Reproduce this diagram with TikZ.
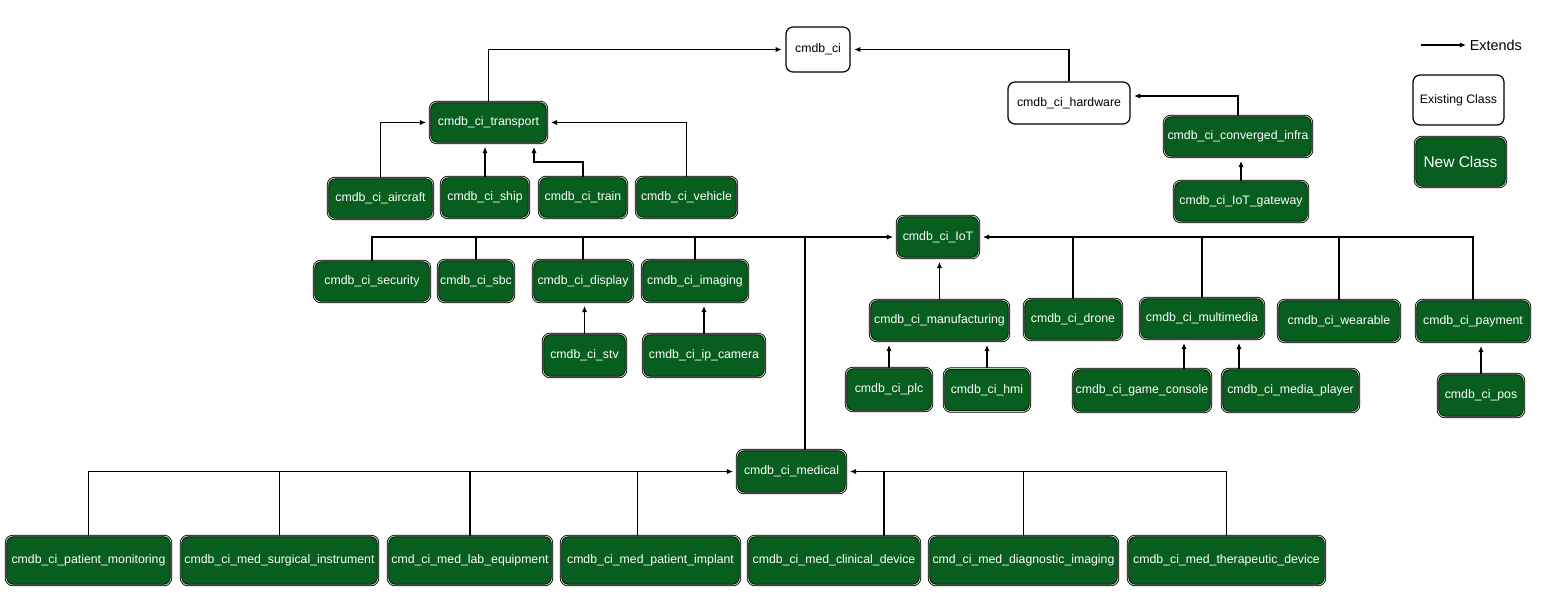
\documentclass[tikz,border=0pt]{standalone}
\usepackage{fontspec}
\setmainfont{Liberation Sans}
\usetikzlibrary{arrows.meta, calc}
\definecolor{clsGreen}{HTML}{075E1F}
\definecolor{clsEdge}{HTML}{A8CFA9}

\tikzset{
  oldcls/.style={draw=black, fill=white, rounded corners=4pt, line width=0.7pt, align=center},
  newcls/.style={draw=black, double=clsEdge, double distance=0.5pt, line width=0.45pt,
    fill=clsGreen, text=white, rounded corners=4pt, align=center},
  sz/.style 2 args={minimum width=#1*0.02cm, minimum height=#2*0.02cm, inner sep=0pt},
  ext/.style={->, line width=0.8pt, shorten >=2pt},
  link/.style={line width=0.8pt},
}

\begin{document}
\begin{tikzpicture}[x=0.02cm, y=-0.02cm, font=\fontsize{7}{8.4}\selectfont,
    >={Latex[length=3.5pt,width=3pt]}]
  \useasboundingbox (0,0) rectangle (1545,592);

  % existing classes
  \node[oldcls, sz={64}{45}] (ci) at (818,49.5) {cmdb\_ci};
  \node[oldcls, sz={122}{42}] (hardware) at (1069,103) {cmdb\_ci\_hardware};

  % transport
  \node[newcls, sz={117}{41}] (transport) at (488.5,122.5) {cmdb\_ci\_transport};
  \node[newcls, sz={105}{41}] (aircraft) at (380.5,198.5) {cmdb\_ci\_aircraft};
  \node[newcls, sz={88}{41}] (ship) at (485,197.5) {cmdb\_ci\_ship};
  \node[newcls, sz={88}{41}] (train) at (583,197.5) {cmdb\_ci\_train};
  \node[newcls, sz={101}{41}] (vehicle) at (686.5,197.5) {cmdb\_ci\_vehicle};

  % hardware
  \node[newcls, sz={148}{41}] (converged) at (1238,136.5) {cmdb\_ci\_converged\_infra};
  \node[newcls, sz={134}{41}] (gateway) at (1241,201.5) {cmdb\_ci\_IoT\_gateway};

  % IoT and its children
  \node[newcls, sz={82}{42}] (iot) at (938,237) {cmdb\_ci\_IoT};
  \node[newcls, sz={116}{41}] (security) at (372,281.5) {cmdb\_ci\_security};
  \node[newcls, sz={76}{42}] (sbc) at (476,281) {cmdb\_ci\_sbc};
  \node[newcls, sz={100}{42}] (display) at (583,281) {cmdb\_ci\_display};
  \node[newcls, sz={106}{42}] (imaging) at (695,281) {cmdb\_ci\_imaging};
  \node[newcls, sz={83}{43}] (stv) at (584.5,355.5) {cmdb\_ci\_stv};
  \node[newcls, sz={122}{43}] (ipcam) at (704,355.5) {cmdb\_ci\_ip\_camera};
  \node[newcls, sz={139}{41}] (manufacturing) at (939.5,320.5) {cmdb\_ci\_manufacturing};
  \node[newcls, sz={98}{41}] (drone) at (1073,319.5) {cmdb\_ci\_drone};
  \node[newcls, sz={124}{41}] (multimedia) at (1202,318.5) {cmdb\_ci\_multimedia};
  \node[newcls, sz={122}{42}] (wearable) at (1339,321) {cmdb\_ci\_wearable};
  \node[newcls, sz={114}{42}] (payment) at (1473,321) {cmdb\_ci\_payment};
  \node[newcls, sz={86}{43}] (plc) at (889,389.5) {cmdb\_ci\_plc};
  \node[newcls, sz={86}{43}] (hmi) at (987,390) {cmdb\_ci\_hmi};
  \node[newcls, sz={138}{43}] (game) at (1142,390.5) {cmdb\_ci\_game\_console};
  \node[newcls, sz={137}{43}] (media) at (1290.5,390.5) {cmdb\_ci\_media\_player};
  \node[newcls, sz={86}{43}] (pos) at (1481,395.5) {cmdb\_ci\_pos};

  % medical
  \node[newcls, sz={109}{43}] (medical) at (791.5,471.5) {cmdb\_ci\_medical};
  \node[newcls, sz={165}{49}] (patmon) at (88.5,560.5) {cmdb\_ci\_patient\_monitoring};
  \node[newcls, sz={197}{49}] (surgical) at (279.5,560.5) {cmdb\_ci\_med\_surgical\_instrument};
  \node[newcls, sz={164}{49}] (lab) at (470,560.5) {cmd\_ci\_med\_lab\_equipment};
  \node[newcls, sz={179}{49}] (implant) at (650.5,560.5) {cmdb\_ci\_med\_patient\_implant};
  \node[newcls, sz={172}{49}] (clinical) at (834,560.5) {cmdb\_ci\_med\_clinical\_device};
  \node[newcls, sz={189}{49}] (diagnostic) at (1023.5,560.5) {cmd\_ci\_med\_diagnostic\_imaging};
  \node[newcls, sz={197}{49}] (therapeutic) at (1226.5,560.5) {cmdb\_ci\_med\_therapeutic\_device};

  % legend
  \coordinate (extstart) at (1421,45);
  \node[anchor=west, inner sep=2pt, font=\fontsize{8.2}{10}\selectfont] (extlbl) at (1466,45) {Extends};
  \node[oldcls, sz={91}{50}] (legold) at (1458.5,100) {Existing Class};
  \node[newcls, sz={91}{50}, font=\fontsize{8.8}{10}\selectfont] (legnew) at (1460.5,162) {New Class};
  \draw[->, line width=0.8pt] (extstart) -- (extlbl.west);

  % transport / hardware links
  \draw[ext] (transport.north) |- (ci.west);
  \draw[ext] (hardware.north) |- (ci.east);
  \draw[ext] (converged.north) |- ($(hardware.east)+(0,-7)$);
  \draw[ext] (gateway.north) -- (gateway.north |- converged.south);
  \draw[ext] (aircraft.north) |- (transport.west);
  \draw[ext] (ship.north) -- (ship.north |- transport.south);
  \coordinate (trainbend) at (534,162);
  \draw[ext] (train.north) |- (trainbend) -- (trainbend |- transport.south);
  \draw[ext] (vehicle.north) |- (transport.east);

  % IoT links
  \draw[ext] (security.north) |- (iot.west);
  \foreach \n in {sbc, display, imaging}
    \draw[link] (\n.north) -- (\n.north |- iot.west);
  \coordinate (medtop) at ($(medical.north)+(13.5,0)$);
  \draw[link] (medtop) -- (medtop |- iot.west);
  \draw[ext] (stv.north) -- (stv.north |- display.south);
  \draw[ext] (ipcam.north) -- (ipcam.north |- imaging.south);
  \draw[ext] (payment.north) |- (iot.east);
  \foreach \n in {drone, multimedia, wearable}
    \draw[link] (\n.north) -- (\n.north |- iot.east);
  \draw[ext] (manufacturing.north) -- (manufacturing.north |- iot.south);
  \draw[ext] (plc.north) -- (plc.north |- manufacturing.south);
  \draw[ext] (hmi.north) -- (hmi.north |- manufacturing.south);
  \coordinate (gametop) at ($(multimedia.south)+(-18,0)$);
  \coordinate (mediatop) at ($(multimedia.south)+(37,0)$);
  \draw[ext] (gametop |- game.north) -- (gametop);
  \draw[ext] (mediatop |- media.north) -- (mediatop);
  \draw[ext] (pos.north) -- (pos.north |- payment.south);

  % medical links
  \draw[ext] (patmon.north) |- (medical.west);
  \foreach \n in {surgical, lab}
    \draw[link] (\n.north) -- (\n.north |- medical.west);
  \coordinate (implanttop) at ($(implant.north)+(-13,0)$);
  \draw[link] (implanttop) -- (implanttop |- medical.west);
  \draw[ext] (therapeutic.north) |- (medical.east);
  \coordinate (clinicaltop) at ($(clinical.north)+(50,0)$);
  \draw[link] (clinicaltop) -- (clinicaltop |- medical.east);
  \draw[link] (diagnostic.north) -- (diagnostic.north |- medical.east);
\end{tikzpicture}
\end{document}
